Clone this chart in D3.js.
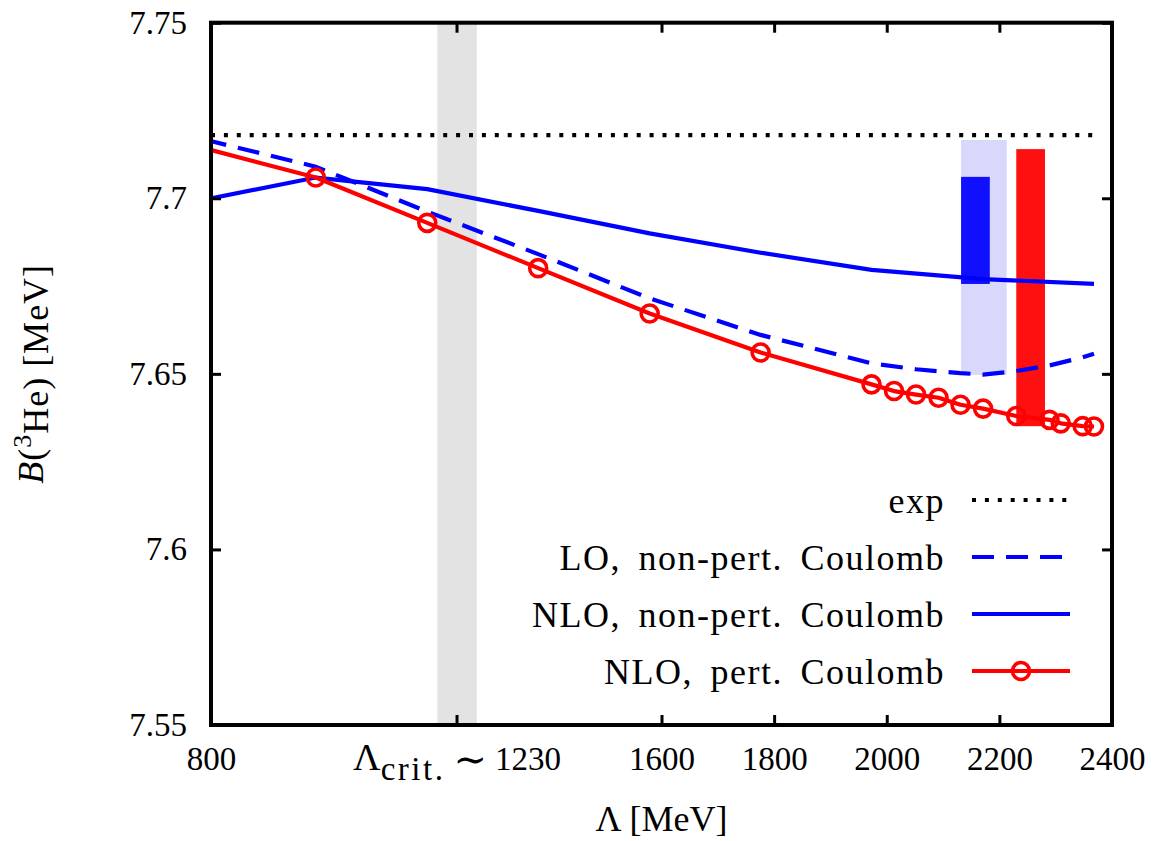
<!DOCTYPE html>
<html>
<head>
<meta charset="utf-8">
<title>B(3He) vs cutoff</title>
<script src="https://cdn.jsdelivr.net/npm/d3@7"></script>
<style>
  body { margin: 0; background: #fff; }
  text { font-family: "Liberation Serif", "DejaVu Serif", serif; }
</style>
</head>
<body>
<div id="chart"></div>
<script>
// --- data ---
const expValue = 7.718;
const expRange = [800, 2370];

// LO, non-pert. Coulomb (dashed blue)
const lamLO = [789, 986, 1184, 1381, 1579, 1776, 1973, 2052, 2131, 2171, 2230, 2289, 2348, 2368];
const bLO   = [7.7167, 7.7090, 7.6962, 7.6841, 7.6715, 7.6611, 7.6530, 7.6513, 7.6502, 7.6498, 7.6508, 7.6524, 7.6547, 7.6557];

// NLO, non-pert. Coulomb (solid blue)
const lamNLO = [789, 986, 1184, 1381, 1579, 1776, 1973, 2171, 2368];
const bNLO   = [7.6996, 7.7059, 7.7026, 7.6964, 7.6900, 7.6845, 7.6796, 7.6770, 7.6756];

// NLO, pert. Coulomb (red with circles)
const lamPert = [789, 986, 1184, 1381, 1579, 1776, 1973, 2013, 2052, 2092, 2131, 2171, 2230, 2289, 2309, 2348, 2368];
const bPert   = [7.7142, 7.7059, 7.6930, 7.6801, 7.6672, 7.6561, 7.6470, 7.6451, 7.6441, 7.6432, 7.6412, 7.6401, 7.6380, 7.6369, 7.6359, 7.6351, 7.6350];

// critical cutoff band and uncertainty boxes
const critBand = [1202, 1272];
const loBand   = { x: [2132, 2213], y: [7.6497, 7.7166] };
const nloBox   = { x: [2132, 2183], y: [7.6756, 7.7061] };
const pertBox  = { x: [2230, 2281], y: [7.6351, 7.7140] };

// ticks
const xTicks = [800, 1236, 1600, 1800, 2000, 2200, 2400];
const xTickLabels = ["800", "crit", "1600", "1800", "2000", "2200", "2400"];
const yTicks = [7.55, 7.6, 7.65, 7.7, 7.75];
const yTickLabels = ["7.55", "7.6", "7.65", "7.7", "7.75"];

const legendLabels = ["exp", "LO, non-pert. Coulomb", "NLO, non-pert. Coulomb", "NLO, pert. Coulomb"];

// --- layout ---
const width = 1165, height = 841;
const marginTop = 22.7, marginRight = 53, marginBottom = 116, marginLeft = 211;
const fontSize = 33;     // tick digits
const wordSize = 36;     // words (legend, titles)

const x = d3.scaleLinear().domain([800, 2400]).range([marginLeft, width - marginRight]);
const y = d3.scaleLinear().domain([7.55, 7.75]).range([height - marginBottom, marginTop]);

const svg = d3.select("#chart").append("svg")
  .attr("width", width).attr("height", height)
  .attr("viewBox", [0, 0, width, height]);

svg.append("defs").append("clipPath").attr("id", "plot")
  .append("rect")
  .attr("x", marginLeft).attr("y", marginTop)
  .attr("width", x.range()[1] - marginLeft)
  .attr("height", y.range()[0] - marginTop);

const plot = svg.append("g").attr("clip-path", "url(#plot)");

// bands and boxes
plot.append("rect")
  .attr("x", x(critBand[0])).attr("width", x(critBand[1]) - x(critBand[0]))
  .attr("y", marginTop).attr("height", y.range()[0] - marginTop)
  .attr("fill", "#e3e3e3");

const boxes = [
  { b: loBand, fill: "#d8d8fa" },
  { b: nloBox, fill: "#1010ff" },
  { b: pertBox, fill: "#ff1010" }
];
plot.selectAll("rect.box").data(boxes).join("rect")
  .attr("class", "box")
  .attr("x", d => x(d.b.x[0]))
  .attr("width", d => x(d.b.x[1]) - x(d.b.x[0]))
  .attr("y", d => y(d.b.y[1]))
  .attr("height", d => y(d.b.y[0]) - y(d.b.y[1]))
  .attr("fill", d => d.fill);

// lines
const line = d3.line().x(d => x(d[0])).y(d => y(d[1]));
const zip = (a, b) => a.map((v, i) => [v, b[i]]);

const styles = {
  exp:  { stroke: "#000", dash: "4,8.9" },
  lo:   { stroke: "#0000ff", dash: "22,12" },
  nlo:  { stroke: "#0000ff", dash: null },
  pert: { stroke: "#ff0000", dash: null }
};

plot.append("path")
  .attr("d", line(expRange.map(l => [l, expValue])))
  .attr("fill", "none").attr("stroke", styles.exp.stroke)
  .attr("stroke-width", 4.2).attr("stroke-dasharray", styles.exp.dash);

plot.append("path")
  .attr("d", line(zip(lamLO, bLO)))
  .attr("fill", "none").attr("stroke", styles.lo.stroke)
  .attr("stroke-width", 4.2).attr("stroke-dasharray", styles.lo.dash);

plot.append("path")
  .attr("d", line(zip(lamNLO, bNLO)))
  .attr("fill", "none").attr("stroke", styles.nlo.stroke)
  .attr("stroke-width", 4.2);

plot.append("path")
  .attr("d", line(zip(lamPert, bPert)))
  .attr("fill", "none").attr("stroke", styles.pert.stroke)
  .attr("stroke-width", 4.2).attr("stroke-linejoin", "round");

plot.selectAll("circle.pt")
  .data(zip(lamPert, bPert).filter(d => d[0] >= 800))
  .join("circle")
  .attr("class", "pt")
  .attr("cx", d => x(d[0])).attr("cy", d => y(d[1]))
  .attr("r", 8.5).attr("fill", "none")
  .attr("stroke", "#ff0000").attr("stroke-width", 3.6);

// axes (ticks point inward, mirrored on all sides)
const tickStyle = g => {
  g.select(".domain").remove();
  g.selectAll(".tick line").attr("stroke-width", 3);
  g.selectAll("text").attr("font-size", fontSize).attr("fill", "#000")
    .style("font-family", "'Liberation Serif', 'DejaVu Serif', serif");
};

svg.append("g")
  .attr("transform", `translate(0,${y.range()[0]})`)
  .call(d3.axisBottom(x).tickValues(xTicks).tickSize(-10).tickPadding(22)
    .tickFormat((d, i) => xTickLabels[i]))
  .call(tickStyle)
  .call(g => g.selectAll(".tick text").filter((d, i) => xTickLabels[i] === "crit")
    .text(null)
    .call(t => {
      t.append("tspan").attr("font-size", 38).text("Λ");
      t.append("tspan").attr("font-size", 33).attr("dy", 10).attr("letter-spacing", 2.5).text("crit.");
      t.append("tspan").attr("dy", -7).attr("dx", 8).attr("font-size", 40).text("∼");
      t.append("tspan").attr("dy", -3).attr("dx", 8).attr("font-size", fontSize).text("1230");
    }));

svg.append("g")
  .attr("transform", `translate(0,${marginTop})`)
  .call(d3.axisTop(x).tickValues(xTicks).tickSize(-10).tickFormat(""))
  .call(tickStyle);

svg.append("g")
  .attr("transform", `translate(${marginLeft},0)`)
  .call(d3.axisLeft(y).tickValues(yTicks).tickSize(-10).tickPadding(24)
    .tickFormat((d, i) => yTickLabels[i]))
  .call(tickStyle);

svg.append("g")
  .attr("transform", `translate(${x.range()[1]},0)`)
  .call(d3.axisRight(y).tickValues(yTicks).tickSize(-10).tickFormat(""))
  .call(tickStyle);

// frame
svg.append("rect")
  .attr("x", marginLeft).attr("y", marginTop)
  .attr("width", x.range()[1] - marginLeft)
  .attr("height", y.range()[0] - marginTop)
  .attr("fill", "none").attr("stroke", "#000").attr("stroke-width", 4);

// axis titles
svg.append("text")
  .attr("x", (marginLeft + x.range()[1]) / 2)
  .attr("y", 831)
  .attr("text-anchor", "middle")
  .attr("font-size", wordSize)
  .text("Λ [MeV]");

const yl = svg.append("text")
  .attr("transform", `translate(43,${(marginTop + y.range()[0]) / 2}) rotate(-90)`)
  .attr("text-anchor", "middle")
  .attr("font-size", wordSize)
  .attr("letter-spacing", 1);
yl.append("tspan").attr("font-style", "italic").text("B");
yl.append("tspan").text("(");
yl.append("tspan").attr("font-size", wordSize * 0.72).attr("dy", "-0.45em").text("3");
yl.append("tspan").attr("dy", "0.45em").text("He) [MeV]");

// legend
const legendY = [500, 557, 614, 671];
const legendKeys = ["exp", "lo", "nlo", "pert"];
const leg = svg.append("g");
legendKeys.forEach((k, i) => {
  leg.append("text")
    .attr("x", 945).attr("y", legendY[i]).attr("dy", "0.35em")
    .attr("text-anchor", "end").attr("font-size", wordSize)
    .attr("letter-spacing", 1.5).attr("word-spacing", 7)
    .text(legendLabels[i]);
  leg.append("line")
    .attr("x1", 972).attr("x2", 1070)
    .attr("y1", legendY[i]).attr("y2", legendY[i])
    .attr("stroke", styles[k].stroke).attr("stroke-width", 4.2)
    .attr("stroke-dasharray", styles[k].dash);
  if (k === "pert") {
    leg.append("circle")
      .attr("cx", 1021).attr("cy", legendY[i]).attr("r", 8.5)
      .attr("fill", "none").attr("stroke", "#ff0000").attr("stroke-width", 3.6);
  }
});
</script>
</body>
</html>
